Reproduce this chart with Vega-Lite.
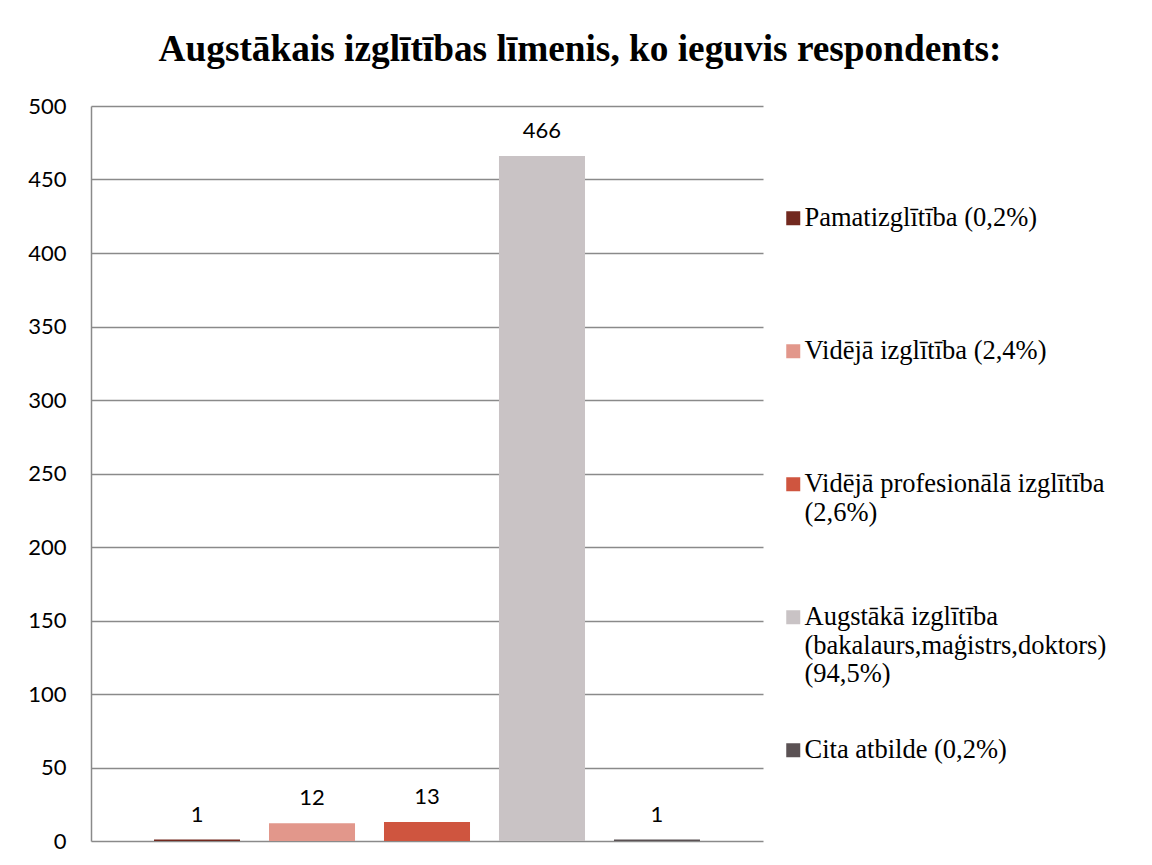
{
  "$schema": "https://vega.github.io/schema/vega-lite/v6.json",
  "autosize": "none",
  "width": 672,
  "height": 735,
  "padding": {"left": 91, "top": 106, "right": 389, "bottom": 24},
  "background": "white",
  "title": {
    "text": "Augstākais izglītības līmenis, ko ieguvis respondents:",
    "font": "Liberation Serif",
    "fontSize": 37.3,
    "fontWeight": "bold",
    "color": "black",
    "anchor": "middle",
    "dx": 153,
    "dy": 44,
    "baseline": "alphabetic",
    "offset": 41
  },
  "data": {
    "values": [
      {"category": "Pamatizglītība (0,2%)", "count": 1},
      {"category": "Vidējā izglītība (2,4%)", "count": 12},
      {"category": "Vidējā profesionālā izglītība (2,6%)", "count": 13},
      {"category": "Augstākā izglītība (bakalaurs,maģistrs,doktors) (94,5%)", "count": 466},
      {"category": "Cita atbilde (0,2%)", "count": 1}
    ]
  },
  "encoding": {
    "x": {
      "field": "category",
      "type": "nominal",
      "sort": null,
      "axis": null,
      "scale": {"paddingInner": 0.252, "paddingOuter": 0.548}
    },
    "y": {
      "field": "count",
      "type": "quantitative",
      "scale": {"domain": [0, 500], "nice": false},
      "axis": {
        "title": null,
        "values": [0, 50, 100, 150, 200, 250, 300, 350, 400, 450, 500],
        "grid": true,
        "gridColor": "#8a8a8a",
        "gridWidth": 1.5,
        "domain": true,
        "domainColor": "#8a8a8a",
        "domainWidth": 1.5,
        "ticks": false,
        "labelPadding": 25,
        "labelFont": "Lato",
        "labelFontSize": 22,
        "labelColor": "black"
      }
    }
  },
  "layer": [
    {
      "mark": {"type": "bar"},
      "encoding": {
        "color": {
          "field": "category",
          "type": "nominal",
          "sort": null,
          "scale": {
            "domain": [
              "Pamatizglītība (0,2%)",
              "Vidējā izglītība (2,4%)",
              "Vidējā profesionālā izglītība (2,6%)",
              "Augstākā izglītība (bakalaurs,maģistrs,doktors) (94,5%)",
              "Cita atbilde (0,2%)"
            ],
            "range": ["#72291f", "#e2978b", "#cf553f", "#c9c3c5", "#5b5254"]
          },
          "legend": {
            "title": null,
            "orient": "none",
            "legendX": 689,
            "legendY": 99,
            "padding": 0,
            "gridAlign": "all",
            "symbolType": "square",
            "symbolSize": 196,
            "symbolStrokeWidth": 0,
            "labelFont": "Liberation Serif",
            "labelFontSize": 26.5,
            "labelColor": "black",
            "labelLimit": 400,
            "labelOffset": -2,
            "labelLineHeight": 36,
            "rowPadding": 49,
            "labelExpr": "datum.label == 'Vidējā profesionālā izglītība (2,6%)' ? ['Vidējā profesionālā izglītība', '(2,6%)'] : datum.label == 'Augstākā izglītība (bakalaurs,maģistrs,doktors) (94,5%)' ? ['Augstākā izglītība', '(bakalaurs,maģistrs,doktors)', '(94,5%)'] : datum.label"
          }
        }
      }
    },
    {
      "mark": {"type": "text", "font": "Lato", "fontSize": 22, "color": "black", "baseline": "alphabetic", "dy": -18},
      "encoding": {"text": {"field": "count", "type": "quantitative"}}
    }
  ],
  "config": {"view": {"stroke": null}}
}
